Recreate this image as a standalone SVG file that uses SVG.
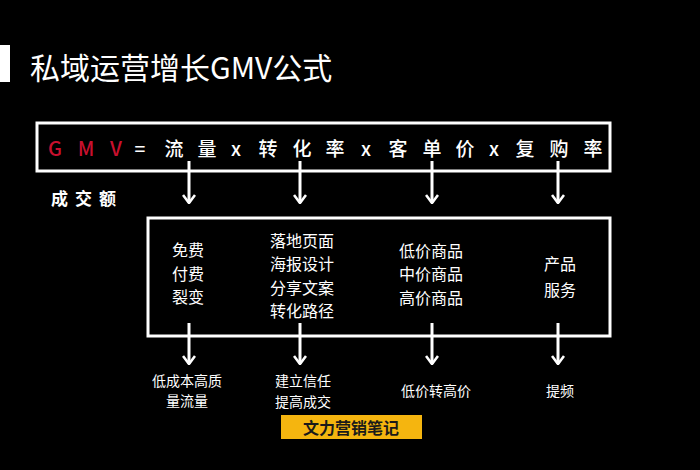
<svg xmlns="http://www.w3.org/2000/svg" width="700" height="470" viewBox="0 0 700 470">
<style>
text{font-family:"Noto Sans CJK SC","Liberation Sans",sans-serif;fill:#fff;text-anchor:middle;dominant-baseline:central}
.f{font-size:19px;font-weight:500}
.g{fill:#c8102e;font-size:20px}
.in{font-size:16px}
.out{font-size:14px}
.box{fill:none;stroke:#fff;stroke-width:3}
.ln{stroke:#fff;stroke-width:3;fill:none}
</style>
<defs>
<marker id="ah" viewBox="0 0 10 14" refX="9" refY="7" markerWidth="10" markerHeight="14" markerUnits="userSpaceOnUse" orient="auto">
<path d="M1,1 L9,7 L1,13" fill="none" stroke="#fff" stroke-width="2.6"/>
</marker>
</defs>
<rect width="700" height="470" fill="#000"/>
<g id="title">
<rect x="0" y="45" width="10" height="37" fill="#fff"/>
<text x="30" y="66" style="text-anchor:start;font-size:30px">私域运营增长GMV公式</text>
</g>
<g id="formula">
<rect class="box" x="37" y="123" width="573" height="48"/>
<text class="f g" x="55" y="147">G</text>
<text class="f g" x="86" y="147">M</text>
<text class="f g" x="116" y="147">V</text>
<text class="f" x="140" y="147">=</text>
<text class="f" x="174" y="147">流</text>
<text class="f" x="207" y="147">量</text>
<text class="f" x="236" y="147">x</text>
<text class="f" x="268" y="147">转</text>
<text class="f" x="302" y="147">化</text>
<text class="f" x="335" y="147">率</text>
<text class="f" x="366" y="147">x</text>
<text class="f" x="398" y="147">客</text>
<text class="f" x="432" y="147">单</text>
<text class="f" x="465" y="147">价</text>
<text class="f" x="494" y="147">x</text>
<text class="f" x="525" y="147">复</text>
<text class="f" x="559" y="147">购</text>
<text class="f" x="593" y="147">率</text>
</g>
<g id="gmv-label">
<text x="87" y="197" style="font-size:17px;font-weight:bold;letter-spacing:7px">成交额</text>
</g>
<g id="methods">
<rect class="box" x="148" y="218" width="462" height="118"/>
<text class="in" x="188" y="249">免费</text>
<text class="in" x="188" y="273">付费</text>
<text class="in" x="188" y="296">裂变</text>
<text class="in" x="302" y="240">落地页面</text>
<text class="in" x="302" y="263">海报设计</text>
<text class="in" x="302" y="287">分享文案</text>
<text class="in" x="302" y="310">转化路径</text>
<text class="in" x="431" y="250">低价商品</text>
<text class="in" x="431" y="273">中价商品</text>
<text class="in" x="431" y="297">高价商品</text>
<text class="in" x="560" y="263">产品</text>
<text class="in" x="560" y="289">服务</text>
</g>
<g id="connectors">
<line class="ln" x1="189" y1="161" x2="189" y2="203" marker-end="url(#ah)"/>
<line class="ln" x1="300" y1="161" x2="300" y2="203" marker-end="url(#ah)"/>
<line class="ln" x1="432" y1="161" x2="432" y2="203" marker-end="url(#ah)"/>
<line class="ln" x1="558" y1="161" x2="558" y2="203" marker-end="url(#ah)"/>
<line class="ln" x1="189" y1="323" x2="189" y2="364" marker-end="url(#ah)"/>
<line class="ln" x1="300" y1="323" x2="300" y2="364" marker-end="url(#ah)"/>
<line class="ln" x1="432" y1="323" x2="432" y2="364" marker-end="url(#ah)"/>
<line class="ln" x1="558" y1="323" x2="558" y2="364" marker-end="url(#ah)"/>
</g>
<g id="results">
<text class="out" x="187" y="380">低成本高质</text>
<text class="out" x="187" y="400">量流量</text>
<text class="out" x="303" y="380">建立信任</text>
<text class="out" x="303" y="401">提高成交</text>
<text class="out" x="436" y="390">低价转高价</text>
<text class="out" x="560" y="390">提频</text>
</g>
<g id="brand">
<rect x="281" y="415" width="141" height="24" fill="#f5b50f"/>
<text x="351" y="427" style="fill:#1a1a1a;font-size:16px;font-weight:bold">文力营销笔记</text>
</g>
</svg>
